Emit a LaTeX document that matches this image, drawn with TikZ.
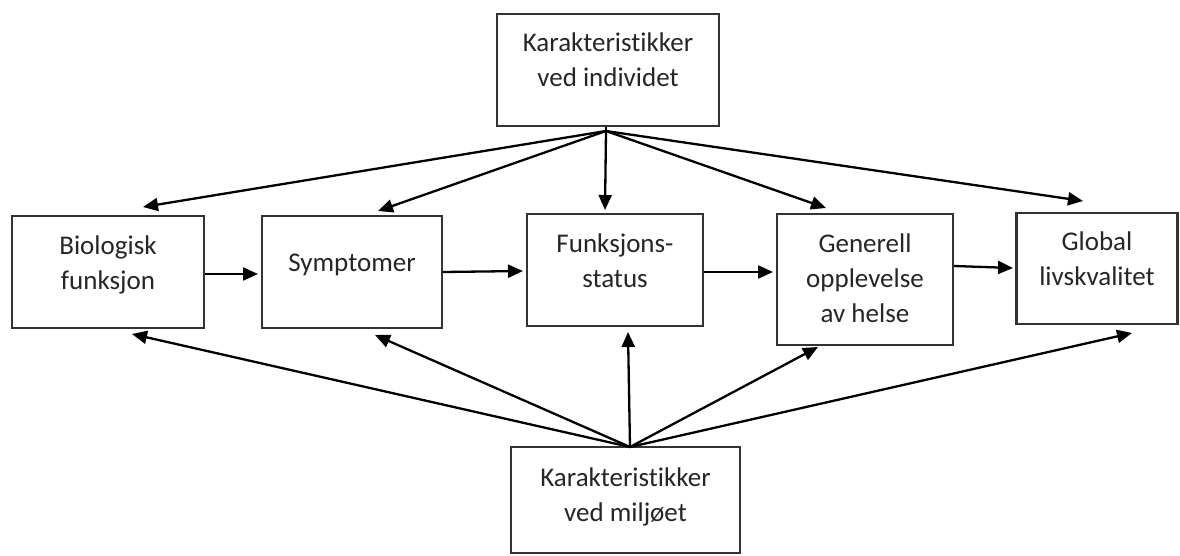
\documentclass[tikz,border=0pt]{standalone}
\usepackage{fontspec}
\setmainfont[Ligatures={NoCommon}]{Carlito}
\usetikzlibrary{arrows.meta}
\begin{document}
\begin{tikzpicture}[x=1pt,y=-1pt,
  box/.style={draw=black!80,line width=2.2pt,rectangle,inner sep=0pt},
  txt/.style={anchor=base,align=center,text=black!85,font=\fontsize{27}{35}\selectfont,inner sep=0pt},
  arr/.style={draw=black,line width=2.3pt,-{Triangle[length=15pt,width=13pt]}}]
\useasboundingbox[fill=white] (0,0) rectangle (1180,556);
% boxes
\node[box,minimum width=222pt,minimum height=112pt] (top) at (608,70) {};
\node[box,minimum width=192pt,minimum height=112pt] (bio) at (108,272) {};
\node[box,minimum width=180pt,minimum height=112pt] (sym) at (352,272) {};
\node[box,minimum width=176pt,minimum height=112pt] (fun) at (615,270) {};
\node[box,minimum width=176pt,minimum height=131pt] (gen) at (865,279.5) {};
\node[box,minimum width=161pt,minimum height=111pt] (glob) at (1097,268.5) {};
\node[box,minimum width=229pt,minimum height=106pt] (bot) at (625.5,500) {};
% texts (anchor base = baseline of last line)
\node[txt] (ttop) at (608,87) {Karakteristikker\\ved individet};
\node[txt] (tbio) at (108,289) {Biologisk\\funksjon};
\node[txt] (tsym) at (352,271) {Symptomer};
\node[txt] (tfun) at (615,287) {Funksjons-\\status};
\node[txt] (tgen) at (865,322) {Generell\\opplevelse\\av helse};
\node[txt] (tglob) at (1097,285) {Global\\livskvalitet};
\node[txt] (tbot) at (625.5,521) {Karakteristikker\\ved miljøet};
% apex points and arrow ends
\coordinate (at) at (606,131);
\coordinate (ab) at (630,447);
\coordinate (t1) at (143,207);
\coordinate (t2) at (378,211);
\coordinate (t3) at (605,210);
\coordinate (t4) at (826,208);
\coordinate (t5) at (1083,201);
\coordinate (b1) at (132,334);
\coordinate (b2) at (375,335);
\coordinate (b3) at (628,332);
\coordinate (b4) at (818,347);
\coordinate (b5) at (1132,333);
\draw[black,line width=1.5pt] (top.south -| at) -- (at);
\foreach \t in {t1,t2,t3,t4,t5} \draw[arr] (at) -- (\t);
\foreach \b in {b1,b2,b3,b4,b5} \draw[arr] (ab) -- (\b);
% horizontal chain
\coordinate (h1s) at (205,274); \coordinate (h1e) at (258,274);
\coordinate (h2s) at (443,272); \coordinate (h2e) at (523,271);
\coordinate (h3s) at (704,272); \coordinate (h3e) at (773,272);
\coordinate (h4s) at (954,266); \coordinate (h4e) at (1013,268);
\draw[arr] (h1s) -- (h1e);
\draw[arr] (h2s) -- (h2e);
\draw[arr] (h3s) -- (h3e);
\draw[arr] (h4s) -- (h4e);
\end{tikzpicture}
\end{document}
